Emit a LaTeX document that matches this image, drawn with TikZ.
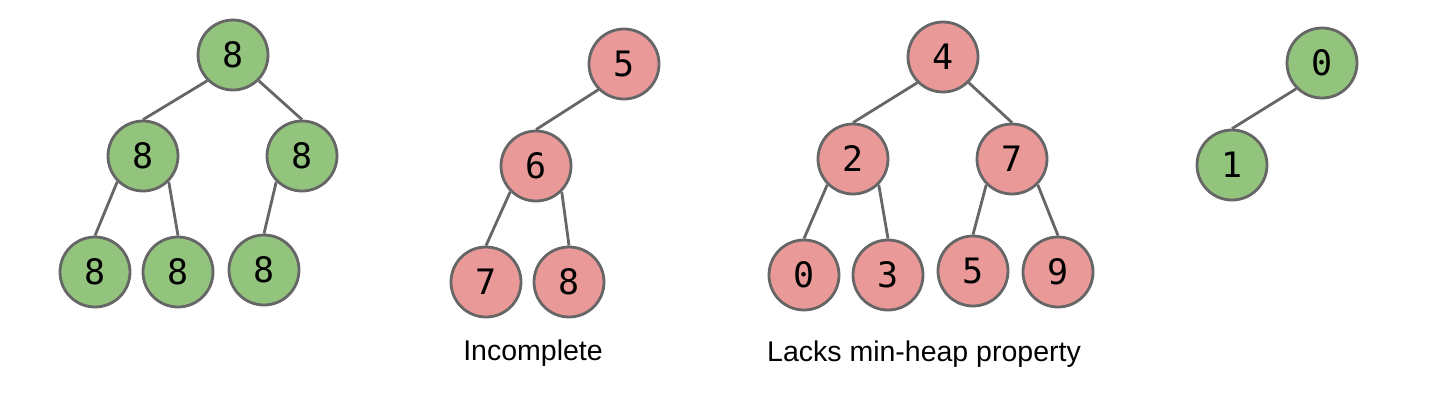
\documentclass[tikz,border=0pt]{standalone}
\usepackage{fontspec}
\setmainfont{Liberation Sans}
\setmonofont{DejaVu Sans Mono}
\definecolor{heapgreen}{HTML}{93C47D}
\definecolor{heapred}{HTML}{EA9999}
\definecolor{edgegray}{HTML}{666666}
\begin{document}
\begin{tikzpicture}[x=1pt,y=-1pt,
    key/.style={circle,draw=edgegray,line width=2.8pt,minimum size=70pt,inner sep=0pt,
        font=\fontsize{35}{35}\selectfont\ttfamily},
    good/.style={key,fill=heapgreen},
    bad/.style={key,fill=heapred},
    edge/.style={draw=edgegray,line width=2.8pt},
    caption/.style={anchor=base,font=\fontsize{28.5}{30}\selectfont}]
    \useasboundingbox (0,0) rectangle (1456,400);
    % valid heap, all equal keys
    \node[good] (a) at (233,55) {8};
    \node[good] (al) at (143,156) {8};
    \node[good] (ar) at (302,156) {8};
    \node[good] (all) at (95,272) {8};
    \node[good] (alr) at (178,272) {8};
    \node[good] (arl) at (264,270) {8};
    % not complete
    \node[bad] (b) at (624,64) {5};
    \node[bad] (bl) at (536,166) {6};
    \node[bad] (bll) at (486,282) {7};
    \node[bad] (blr) at (569,282) {8};
    \node[caption] (bcap) at (533,360) {Incomplete};
    % not ordered
    \node[bad] (c) at (943,57) {4};
    \node[bad] (cl) at (853,159) {2};
    \node[bad] (cr) at (1012,159) {7};
    \node[bad] (cll) at (804,275) {0};
    \node[bad] (clr) at (888,275) {3};
    \node[bad] (crl) at (973,271) {5};
    \node[bad] (crr) at (1058,272) {9};
    \node[caption] (ccap) at (924,361) {Lacks min-heap property};
    % small valid heap
    \node[good] (d) at (1322,63) {0};
    \node[good] (dl) at (1232,165) {1};
    % edges
    \foreach \p/\c in {a/al,al/all,ar/arl,b/bl,bl/bll,c/cl,cl/cll,cr/crl,d/dl}
    \draw[edge] (\p.south west) -- (\c.north);
    \foreach \p/\c in {a/ar,al/alr,bl/blr,c/cr,cl/clr,cr/crr}
    \draw[edge] (\p.south east) -- (\c.north);
\end{tikzpicture}
\end{document}
